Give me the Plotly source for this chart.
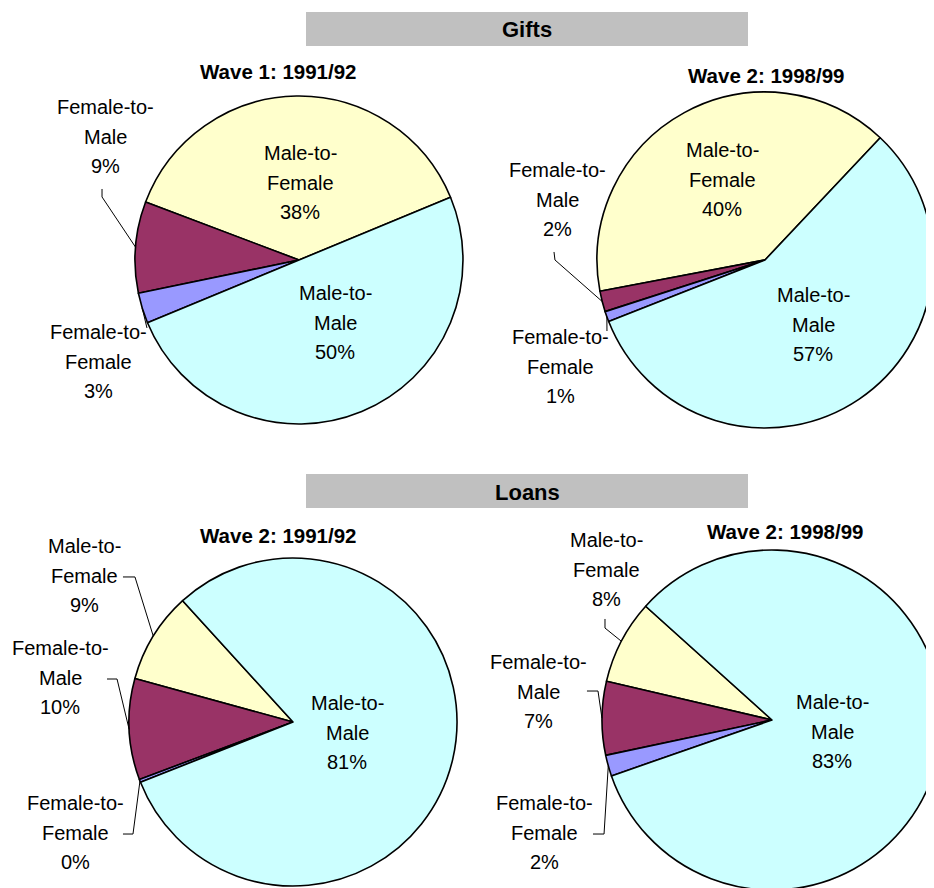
import math
import plotly.graph_objects as go

# The page puts the figure 8px in from the top-left corner; coordinates below
# are given in screen pixels and shifted by OFF when converted to paper units.
OFF = 8
FW, FH = 944, 896

# ---------------- data ----------------
categories = ["Male-to-Female", "Female-to-Male", "Female-to-Female", "Male-to-Male"]
colors = ["#FFFFCC", "#993366", "#9999FF", "#CCFFFF"]

gifts_1991 = [38, 9, 3, 50]
gifts_1998 = [40, 2, 1, 57]
loans_1991 = [9, 10, 0.3, 81]
loans_1998 = [8, 7, 2, 83]

pie_titles = ["Wave 1: 1991/92", "Wave 2: 1998/99", "Wave 2: 1991/92", "Wave 2: 1998/99"]
section_titles = ["Gifts", "Loans"]

FONT = "Liberation Sans, Arial, sans-serif"
LINE = 29.5

# ---------------- layout of each pie (screen pixels) ----------------
pies = [
    dict(values=gifts_1991, cx=299, cy=260, r=164, start=22.5, title=pie_titles[0], tpos=(278, 71),
         labels=[dict(pos=(300, 153)), dict(pos=(105, 107), lead=[(102, 189), (102, 197)]),
                 dict(pos=(98, 332), lead=[(147, 328)]), dict(pos=(335, 293))]),
    dict(values=gifts_1998, cx=765, cy=260, r=168, start=46.7, title=pie_titles[1], tpos=(766, 76),
         labels=[dict(pos=(722, 150)), dict(pos=(557, 170), lead=[(554, 252), (555, 260)]),
                 dict(pos=(560, 337), lead=[(607, 331)]), dict(pos=(813, 295))]),
    dict(values=loans_1991, cx=293, cy=722, r=164, start=132.3, title=pie_titles[2], tpos=(278, 535),
         labels=[dict(pos=(84, 546), lead=[(123, 577), (135, 577)]),
                 dict(pos=(60, 648), lead=[(107, 679), (117, 679)]),
                 dict(pos=(75, 803), lead=[(123, 834), (133, 834)]), dict(pos=(347, 703))]),
    dict(values=loans_1998, cx=772, cy=720, r=170, start=138.0, title=pie_titles[3], tpos=(785, 531),
         labels=[dict(pos=(606, 540), lead=[(605, 619), (605, 628)]),
                 dict(pos=(538, 662), lead=[(587, 691), (598, 691)]),
                 dict(pos=(544, 803), lead=[(593, 834), (604, 834)]), dict(pos=(832, 702))]),
]


def px(x):
    return (x - OFF) / FW


def py(y):
    return 1 - (y - OFF) / FH


def split_label(lbl):
    a, b = lbl.split("-to-")
    return [a + "-to-", b]


fig = go.Figure()
annotations = []
shapes = []

# section header bars
for title, (y0, y1) in zip(section_titles, [(12, 46), (474, 508)]):
    shapes.append(dict(type="rect", xref="paper", yref="paper", x0=px(306), x1=px(748),
                       y0=py(y1), y1=py(y0), fillcolor="#C0C0C0", line=dict(width=0), layer="below"))
    annotations.append(dict(text="<b>%s</b>" % title, x=px(527), y=py((y0 + y1) / 2 + 1),
                            xref="paper", yref="paper", showarrow=False,
                            font=dict(family=FONT, size=22, color="black"),
                            xanchor="center", yanchor="middle"))

for p in pies:
    cx, cy, r = p["cx"], p["cy"], p["r"]
    total = sum(p["values"])
    # plotly anchors the counter-clockwise end of the first slice at the rotation angle
    anchor = p["start"] + p["values"][0] / total * 360
    fig.add_trace(go.Pie(
        labels=categories, values=p["values"], sort=False, direction="counterclockwise",
        rotation=90 - anchor, textinfo="none", hoverinfo="label+percent",
        marker=dict(colors=colors, line=dict(color="black", width=1.6)),
        domain=dict(x=[px(cx - r), px(cx + r)], y=[py(cy + r), py(cy - r)]),
        showlegend=False,
    ))
    annotations.append(dict(text="<b>%s</b>" % p["title"], x=px(p["tpos"][0]), y=py(p["tpos"][1]),
                            xref="paper", yref="paper", showarrow=False,
                            font=dict(family=FONT, size=20.5, color="black"),
                            xanchor="center", yanchor="middle"))
    cum = 0.0
    for cat, v, lab in zip(categories, p["values"], p["labels"]):
        mid = p["start"] + (cum + v / 2) / total * 360
        cum += v
        lines = split_label(cat) + ["%d%%" % round(v / total * 100)]
        x0, y0 = lab["pos"]
        for i, t in enumerate(lines):
            annotations.append(dict(text=t, x=px(x0), y=py(y0 + i * LINE), xref="paper", yref="paper",
                                    showarrow=False, font=dict(family=FONT, size=20, color="black"),
                                    xanchor="center", yanchor="middle"))
        if "lead" in lab:
            ex = cx + r * math.cos(math.radians(mid))
            ey = cy - r * math.sin(math.radians(mid))
            pts = lab["lead"] + [(ex, ey)]
            path = "M " + " L ".join("%.4f,%.4f" % (px(a), py(b)) for a, b in pts)
            shapes.append(dict(type="path", xref="paper", yref="paper", path=path,
                               line=dict(color="black", width=1)))

fig.update_layout(
    width=FW, height=FH, margin=dict(l=0, r=0, t=0, b=0),
    paper_bgcolor="white", plot_bgcolor="white",
    annotations=annotations, shapes=shapes,
)

fig.write_html("out.html")
